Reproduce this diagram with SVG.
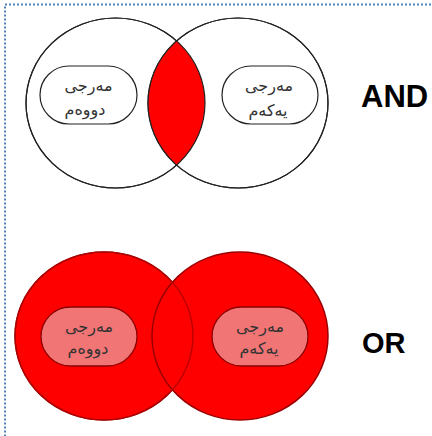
<svg xmlns="http://www.w3.org/2000/svg" width="432" height="436" viewBox="0 0 432 436">
<style>
.lbl{font-family:"DejaVu Sans","Noto Sans",sans-serif;font-size:16px;fill:#333;text-anchor:middle}
.op{font-family:"Liberation Sans",Arial,sans-serif;font-weight:bold;fill:#000}
.wc{fill:#fff;stroke:#222;stroke-width:1.2}
.rc{fill:#ff0000;stroke:#9a0000;stroke-width:1.5}
.wp{fill:#fff;stroke:#222;stroke-width:1.2}
.rp{fill:#f27575;stroke:#8b0000;stroke-width:1.3}
</style>
<defs>
<clipPath id="clipL"><ellipse cx="115.5" cy="103" rx="89.5" ry="85"/></clipPath>
</defs>
<rect x="5" y="4.5" width="440" height="440" fill="none" stroke="#4f81bd" stroke-width="2" stroke-dasharray="2 2"/>
<g id="and-venn">
<ellipse class="wc" cx="115.5" cy="103" rx="89.5" ry="85"/>
<ellipse class="wc" cx="238" cy="103" rx="90" ry="85"/>
<ellipse cx="238" cy="103" rx="90" ry="85" fill="#ff0000" clip-path="url(#clipL)"/>
<ellipse cx="115.5" cy="103" rx="89.5" ry="85" fill="none" stroke="#222" stroke-width="1.2"/>
<ellipse cx="238" cy="103" rx="90" ry="85" fill="none" stroke="#222" stroke-width="1.2"/>
</g>
<g id="and-second">
<rect class="wp" x="40" y="66" width="97" height="58" rx="29"/>
<text class="lbl" x="88.5" y="91">مەرجی</text>
<text class="lbl" x="85" y="115">دووەم</text>
</g>
<g id="and-first">
<rect class="wp" x="222" y="66" width="96" height="58" rx="29"/>
<text class="lbl" x="269" y="91">مەرجی</text>
<text class="lbl" x="268" y="116">یەکەم</text>
</g>
<text id="and-label" class="op" x="361" y="107" font-size="31">AND</text>
<g id="or-venn">
<ellipse class="rc" cx="104" cy="336" rx="89" ry="84"/>
<ellipse class="rc" cx="240" cy="336" rx="88" ry="84"/>
<ellipse cx="104" cy="336" rx="89" ry="84" fill="none" stroke="#b00000" stroke-width="1.2"/>
</g>
<g id="or-second">
<rect class="rp" x="41" y="307" width="96" height="59" rx="29.5"/>
<text class="lbl" x="89" y="332">مەرجی</text>
<text class="lbl" x="88" y="354">دووەم</text>
</g>
<g id="or-first">
<rect class="rp" x="212" y="307" width="96" height="59" rx="29.5"/>
<text class="lbl" x="260" y="332">مەرجی</text>
<text class="lbl" x="259" y="354">یەکەم</text>
</g>
<text id="or-label" class="op" x="362" y="353" font-size="29">OR</text>
</svg>
